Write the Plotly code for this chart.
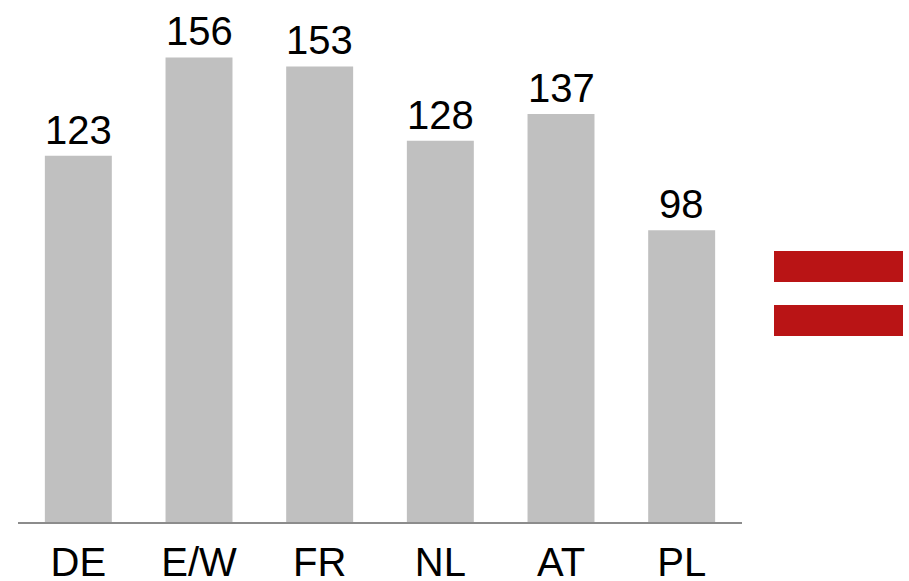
import plotly.graph_objects as go

# Index values per country
countries = ["DE", "E/W", "FR", "NL", "AT", "PL"]
values = [123, 156, 153, 128, 137, 98]

BAR_COLOR = "#C0C0C0"
RED = "#B91415"
FONT = "Liberation Sans, Arial, sans-serif"

W, H = 909, 581
ML, MR, MT, MB = 18, 167, 0, 59

fig = go.Figure(
    go.Bar(
        x=countries,
        y=values,
        marker=dict(color=BAR_COLOR, line=dict(width=0)),
        cliponaxis=False,
        hoverinfo="x+y",
    )
)

# Value labels above each bar
annotations = [
    dict(
        x=c, y=v, xref="x", yref="y",
        text=str(v), showarrow=False,
        yanchor="bottom", yshift=2,
        font=dict(size=40, color="#000000", family=FONT),
    )
    for c, v in zip(countries, values)
]

plot_w = W - ML - MR
plot_h = H - MT - MB


def px_x(x):
    return (x - ML) / plot_w


def px_y(y):
    return (H - MB - y) / plot_h


# Red "equals" sign to the right of the bars
shapes = []
for y0, y1 in [(251, 282), (305, 336)]:
    shapes.append(dict(
        type="rect", xref="paper", yref="paper",
        x0=px_x(774), x1=px_x(903), y0=px_y(y1), y1=px_y(y0),
        fillcolor=RED, line=dict(width=0), layer="above",
    ))

fig.update_layout(
    width=W, height=H,
    margin=dict(l=ML, r=MR, t=MT, b=MB, pad=0, autoexpand=False),
    paper_bgcolor="white", plot_bgcolor="white",
    bargap=0.445,
    showlegend=False,
    font=dict(family=FONT, color="#000000"),
    xaxis=dict(
        showgrid=False, zeroline=False,
        showline=True, linecolor="#8C8C8C", linewidth=2,
        ticks="", tickfont=dict(size=40, color="#000000"),
        ticklabelstandoff=4, automargin=False,
        fixedrange=True,
    ),
    yaxis=dict(
        range=[0, 175.3], visible=False, showgrid=False, zeroline=False,
        fixedrange=True, automargin=False,
    ),
    shapes=shapes,
    annotations=annotations,
)

fig.write_html("out.html")
